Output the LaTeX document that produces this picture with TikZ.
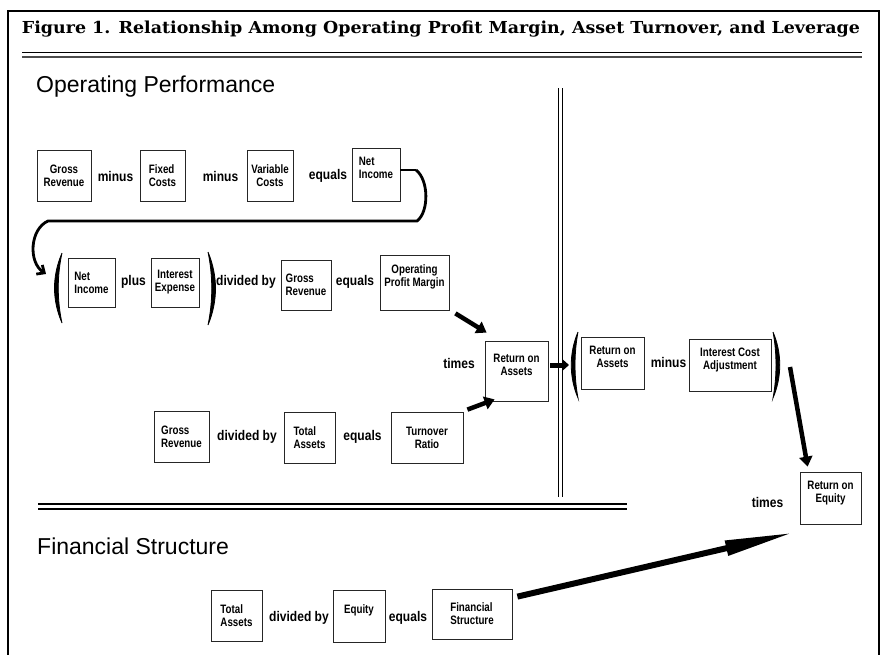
\documentclass[tikz,border=0pt]{standalone}
\usepackage{fontspec}
\usetikzlibrary{arrows.meta,calc}
\newfontfamily\boxfont[FakeStretch=0.8]{Liberation Sans}
\newfontfamily\opfont[FakeStretch=0.86]{Liberation Sans}
\newfontfamily\headfont{Liberation Sans}
\newfontfamily\titlefont{DejaVu Serif}

\begin{document}
\begin{tikzpicture}[x=1pt,y=-1pt,
  fbox/.style={draw=black!85,line width=0.8pt,inner sep=1.5pt,align=center,
    font=\boxfont\bfseries\fontsize{12.2}{13}\selectfont},
  op/.style={inner sep=0pt,font=\opfont\bfseries\fontsize{14}{16}\selectfont},
  head/.style={anchor=base west,inner sep=0pt,font=\headfont\fontsize{23}{26}\selectfont},
  paren/.style={line width=0.8pt},
  fatarrow/.style={line width=4.5pt,-{Triangle[length=10pt,width=13pt]}},
  widearrow/.style={line width=6pt,-{Triangle[length=70pt,width=14pt]}}]

  \useasboundingbox (0,0) rectangle (882,654);

  % frame and rules
  \draw[line width=2.5pt] (8,670) -- (8,11) -- (879,11) -- (879,670);
  \node[anchor=base,inner sep=0pt,font=\titlefont\bfseries\fontsize{16.5}{18}\selectfont] (title) at (441,33)
    {\resizebox{838pt}{\height}{Figure 1. Relationship Among Operating Profit Margin, Asset Turnover, and Leverage}};
  \draw[line width=1pt] (22,52) -- (862,52);
  \draw[line width=2pt,black!70] (22,57) -- (862,57);

  \node[head] (opperf) at (36,92) {Operating Performance};
  \node[head] (finstr) at (37,554) {Financial Structure};

  \draw[line width=1pt] (558,88) -- (558,497) (562,88) -- (562,497);
  \draw[line width=1.6pt] (38,504) -- (627,504) (38,509) -- (627,509);

  % first row
  \node[fbox,minimum width=54pt,minimum height=51pt] (gr1) at (64,175.5) {Gross\\Revenue};
  \node[op] (minus1) at (115.5,176) {minus};
  \node[fbox,align=left,minimum width=45pt,minimum height=51pt] (fc) at (162.5,175.5) {Fixed\\Costs};
  \node[op] (minus2) at (220.5,176) {minus};
  \node[fbox,minimum width=46pt,minimum height=51pt] (vc) at (270,175.5) {Variable\\Costs};
  \node[op] (equals1) at (328,176) {equals};
  \node[fbox,align=left,minimum width=48pt,minimum height=53pt] (ni1) at (376,174.5) {Net\\Income\\\mbox{}};

  \coordinate (turnR) at (416,170);
  \coordinate (turnL) at (48,221);
  \coordinate (loopend) at (46,274);
  \draw[line width=2pt] (ni1.east |- turnR) -- (turnR);
  \draw[line width=2.8pt,-{Straight Barb[length=6pt,width=11pt]}] (turnR) .. controls (429,180) and (429,212) .. (417,221)
    -- (turnL) .. controls (30,229) and (28,262) .. (loopend);

  % second row
  \filldraw[paren] (62,253) .. controls (52,276) and (52,300) .. (62,323) .. controls (57,300) and (57,276) .. (62,253);
  \node[fbox,align=left,minimum width=47pt,minimum height=49pt] (ni2) at (91.5,282.5) {Net\\Income};
  \node[op] (plus) at (133.5,282) {plus};
  \node[fbox,minimum width=48pt,minimum height=49pt] (ie) at (175,282.5) {Interest\\Expense};
  \filldraw[paren] (208,252) .. controls (218,276) and (218,301) .. (208,325) .. controls (213,301) and (213,276) .. (208,252);
  \node[op] (divby1) at (246,282) {divided by};
  \node[fbox,align=left,minimum width=50pt,minimum height=50pt] (gr2) at (306,285) {Gross\\Revenue};
  \node[op] (equals2) at (355,282) {equals};
  \node[fbox,minimum width=69pt,minimum height=55pt] (opm) at (414.5,282.5) {Operating\\Profit Margin\\\mbox{}};

  % return on assets
  \node[fbox,minimum width=63pt,minimum height=60pt] (roa1) at (516.5,371) {Return on\\Assets\\\mbox{}};
  \node[op] (times1) at (459,363) {times};

  % third row
  \node[fbox,align=left,minimum width=55pt,minimum height=51pt] (gr3) at (181.5,436.5) {Gross\\Revenue};
  \node[op] (divby2) at (247,437) {divided by};
  \node[fbox,align=left,minimum width=51pt,minimum height=51pt] (ta1) at (309.5,437.5) {Total\\Assets};
  \node[op] (equals3) at (362.5,437) {equals};
  \node[fbox,minimum width=72pt,minimum height=51pt] (tr) at (427,437.5) {Turnover\\Ratio};

  \draw[fatarrow] ([xshift=6pt,yshift=-3pt]opm.south east) -- ([xshift=2pt,yshift=8pt]roa1.north west);
  \draw[fatarrow] ([xshift=4pt,yshift=2pt]tr.north east) -- ([xshift=10pt,yshift=2pt]roa1.south west);

  % right group
  \coordinate (lpar2) at (569,365);
  \draw[line width=5pt,-{Triangle[length=7pt,width=12pt]}] ([xshift=2pt,yshift=6pt]roa1.east) -- (lpar2);
  \filldraw[paren] (578,332) .. controls (569,353) and (569,377) .. (578,398) .. controls (574,377) and (574,353) .. (578,332);
  \node[fbox,minimum width=63pt,minimum height=52pt] (roa2) at (612.5,363) {Return on\\Assets\\\mbox{}};
  \node[op] (minus3) at (668.5,362) {minus};
  \node[fbox,minimum width=82pt,minimum height=52pt] (ica) at (730,365) {Interest Cost\\Adjustment\\\mbox{}};
  \filldraw[paren] (773,332) .. controls (782,353) and (782,377) .. (773,398) .. controls (777,377) and (777,353) .. (773,332);

  \coordinate (adjout) at (790,367);
  \node[fbox,minimum width=61pt,minimum height=52pt] (roe) at (830.5,498) {Return on\\Equity\\\mbox{}};
  \node[op] (times2) at (767.5,502) {times};
  \draw[fatarrow] (adjout) -- ([xshift=8pt,yshift=5pt]roe.north west);

  % financial structure
  \node[fbox,align=left,minimum width=51pt,minimum height=51pt] (ta2) at (236.5,615.5) {Total\\Assets};
  \node[op] (divby3) at (299,618) {divided by};
  \node[fbox,minimum width=52pt,minimum height=52pt] (eq) at (359,616) {Equity\\\mbox{}};
  \node[op] (equals4) at (408,618) {equals};
  \node[fbox,align=left,minimum width=80pt,minimum height=50pt] (fs) at (472,614) {Financial\\Structure};

  \draw[widearrow] ([xshift=5pt,yshift=-8pt]fs.north east) -- ([xshift=-5pt,yshift=-8pt]roe.south west);
\end{tikzpicture}
\end{document}
